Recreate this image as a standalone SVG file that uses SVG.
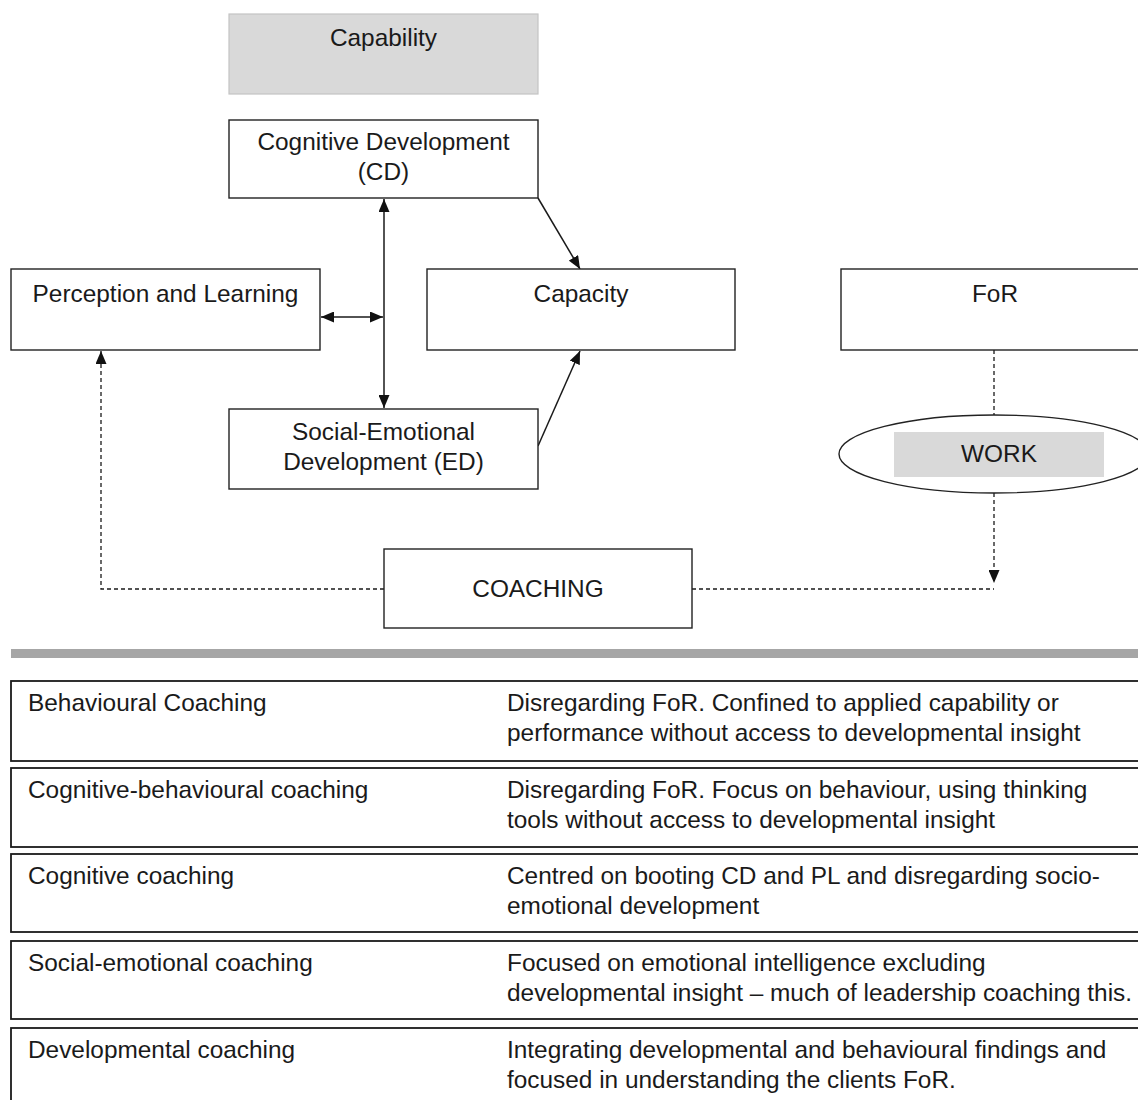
<svg xmlns="http://www.w3.org/2000/svg" width="1138" height="1100" viewBox="0 0 1138 1100">
  <style>
    text { font-family: "Liberation Sans", Arial, sans-serif; font-size: 24.4px; fill: #1a1a1a; }
    .c { text-anchor: middle; }
    .box { fill: #ffffff; stroke: #222222; stroke-width: 1.4; }
    .shade { fill: #d9d9d9; stroke: #c4c4c4; stroke-width: 1.2; }
    .row { fill: #ffffff; stroke: #1a1a1a; stroke-width: 1.8; }
    .link { fill: none; stroke: #1a1a1a; stroke-width: 1.5; }
    .dash { fill: none; stroke: #1a1a1a; stroke-width: 1.3; stroke-dasharray: 4 3; }
  </style>
  <defs>
    <marker id="head" viewBox="0 0 13 11" refX="13" refY="5.5" markerWidth="13" markerHeight="11" markerUnits="userSpaceOnUse" orient="auto-start-reverse">
      <path d="M0,0 L13,5.5 L0,11 Z" fill="#111111"/>
    </marker>
  </defs>

  <rect width="1138" height="1100" fill="#ffffff"/>

  <!-- connectors -->
  <g id="connectors">
    <line class="link" x1="384" y1="199" x2="384" y2="408" marker-start="url(#head)" marker-end="url(#head)"/>
    <line class="link" x1="321" y1="317" x2="383" y2="317" marker-start="url(#head)" marker-end="url(#head)"/>
    <line class="link" x1="538" y1="198" x2="580" y2="269" marker-end="url(#head)"/>
    <line class="link" x1="538" y1="446" x2="580" y2="351" marker-end="url(#head)"/>
    <line class="dash" x1="994" y1="350" x2="994" y2="415"/>
    <line class="dash" x1="994" y1="493" x2="994" y2="583" marker-end="url(#head)"/>
    <polyline class="dash" points="692,589 994,589"/>
    <polyline class="dash" points="384,589 101,589 101,351" marker-end="url(#head)"/>
  </g>

  <g id="capability">
    <rect class="shade" x="229" y="14" width="309" height="80"/>
    <text class="c" x="383.5" y="46">Capability</text>
  </g>

  <g id="cognitive-development">
    <rect class="box" x="229" y="120" width="309" height="78"/>
    <text class="c" x="383.5" y="150">Cognitive Development</text>
    <text class="c" x="383.5" y="180">(CD)</text>
  </g>

  <g id="perception-learning">
    <rect class="box" x="11" y="269" width="309" height="81"/>
    <text class="c" x="165.5" y="302">Perception and Learning</text>
  </g>

  <g id="capacity">
    <rect class="box" x="427" y="269" width="308" height="81"/>
    <text class="c" x="581" y="302">Capacity</text>
  </g>

  <g id="for">
    <rect class="box" x="841" y="269" width="308" height="81"/>
    <text class="c" x="995" y="302">FoR</text>
  </g>

  <g id="social-emotional-development">
    <rect class="box" x="229" y="409" width="309" height="80"/>
    <text class="c" x="383.5" y="440">Social-Emotional</text>
    <text class="c" x="383.5" y="470">Development (ED)</text>
  </g>

  <g id="work">
    <ellipse cx="994" cy="454" rx="155" ry="39" fill="#ffffff" stroke="#222222" stroke-width="1.4"/>
    <rect x="894" y="432" width="210" height="45" fill="#d9d9d9"/>
    <text class="c" x="999" y="462">WORK</text>
  </g>

  <g id="coaching">
    <rect class="box" x="384" y="549" width="308" height="79"/>
    <text class="c" x="538" y="597">COACHING</text>
  </g>

  <!-- divider -->
  <rect id="divider" x="11" y="649" width="1127" height="9" fill="#a6a6a6"/>

  <!-- coaching types table -->
  <g id="row-behavioural">
    <rect class="row" x="11" y="681" width="1140" height="80"/>
    <text x="28" y="711">Behavioural Coaching</text>
    <text x="507" y="711">Disregarding FoR. Confined to applied capability or</text>
    <text x="507" y="741">performance without access to developmental insight</text>
  </g>

  <g id="row-cognitive-behavioural">
    <rect class="row" x="11" y="768" width="1140" height="79"/>
    <text x="28" y="798">Cognitive-behavioural coaching</text>
    <text x="507" y="798">Disregarding FoR. Focus on behaviour, using thinking</text>
    <text x="507" y="828">tools without access to developmental insight</text>
  </g>

  <g id="row-cognitive">
    <rect class="row" x="11" y="854" width="1140" height="78"/>
    <text x="28" y="884">Cognitive coaching</text>
    <text x="507" y="884">Centred on booting CD and PL and disregarding socio-</text>
    <text x="507" y="914">emotional development</text>
  </g>

  <g id="row-social-emotional">
    <rect class="row" x="11" y="941" width="1140" height="78"/>
    <text x="28" y="971">Social-emotional coaching</text>
    <text x="507" y="971">Focused on emotional intelligence excluding</text>
    <text x="507" y="1001">developmental insight – much of leadership coaching this.</text>
  </g>

  <g id="row-developmental">
    <rect class="row" x="11" y="1028" width="1140" height="90"/>
    <text x="28" y="1058">Developmental coaching</text>
    <text x="507" y="1058">Integrating developmental and behavioural findings and</text>
    <text x="507" y="1088">focused in understanding the clients FoR.</text>
  </g>
</svg>
